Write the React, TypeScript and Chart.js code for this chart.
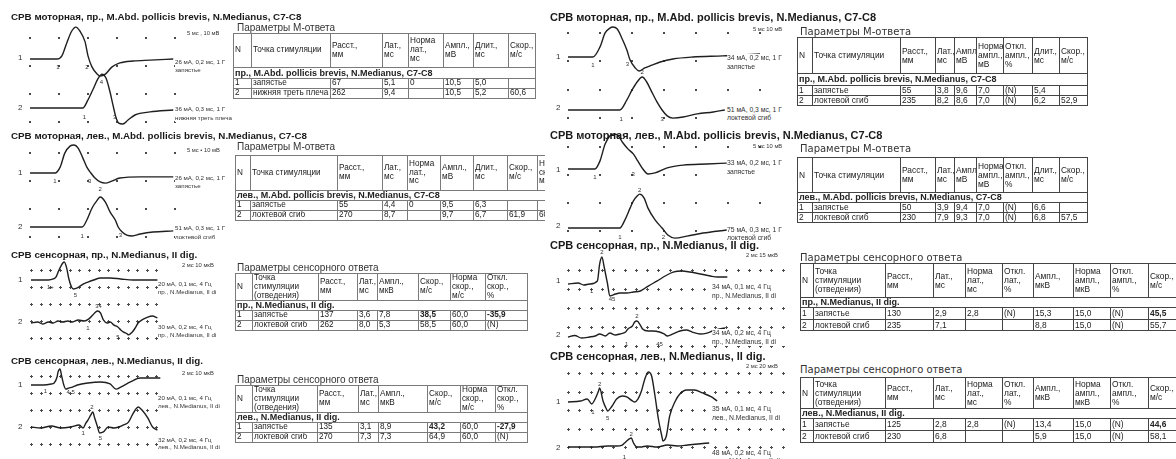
import React, { useEffect, useRef } from "react";
import { Chart, registerables } from "chart.js";

Chart.register(...registerables);

type P = [number, number];
type Mk = [number, number, number, string];

const SANS = '"Liberation Sans", Arial, sans-serif';
const TAH = '"DejaVu Sans", Verdana, sans-serif';

// ===== waveform data: [time ms, amplitude relative to trace baseline] =====
// left column, motor, right side (mV)
const L1_T1: P[] = [[0,0],[4.7,0],[5.5,1.1],[6.4,6.1],[7.2,10],[7.9,11.4],[8.6,10],[9.5,6.1],[10,1.1],[10.7,-2.9],[11.6,-5.4],[12.1,-6.1],[13,-5.4],[14.1,-2.9],[15.5,-1.4],[17.8,-0.7],[20.7,-0.4],[24.7,0]];
const L1_T2: P[] = [[0,0],[9.1,0],[10,2.9],[10.9,6.8],[11.7,10.4],[12.4,12.1],[13.1,10.7],[13.8,5.7],[14.3,1.1],[14.8,-3.2],[15.3,-5.4],[16,-5.7],[16.9,-4.3],[18.1,-2.5],[20.7,-1.4],[24.7,-0.7]];
// left column, motor, left side (mV)
const L2_T1: P[] = [[0,0],[4.3,0],[5.2,2.1],[6,7.1],[6.9,9.6],[7.6,10],[8.3,8.9],[9.1,5.4],[9.8,2.1],[10.5,0],[11.2,-1.8],[12.1,-3.2],[13,-3.6],[14.1,-2.9],[15.5,-1.8],[19,-1.4],[24.7,-1.4]];
const L2_T2: P[] = [[0,0],[9,0],[9.8,2.5],[10.7,6.8],[11.6,9.6],[12.1,10.7],[13,8.9],[13.8,5.4],[14.7,2.5],[15.2,0],[15.9,-1.8],[16.7,-2.9],[17.6,-3.2],[19,-2.5],[21.2,-1.8],[24.7,-1.4]];
// left column, sensory, right side (µV)
const L3_T1: P[] = [[0,0],[1.8,0],[2.3,0.6],[2.6,1.8],[2.9,5.9],[3.3,10],[3.45,10.6],[3.7,7],[3.9,1.2],[4.2,-4.1],[4.4,-5.3],[4.8,-4.7],[5.4,-2.4],[5.9,-1.2],[6.5,0],[7.2,1.2],[8.2,1.2],[9.3,0.6],[10.6,0],[12.4,0],[13.1,0]];
const L3_T2: P[] = [[0,-0.6],[0.7,0],[1.2,-1.2],[1.8,0],[2.3,-0.6],[2.8,0.6],[3.3,0],[3.8,0.6],[4.3,0],[4.9,1.2],[5.5,0.6],[6,1.8],[6.4,4.1],[6.7,5.9],[6.9,6.5],[7.2,5.3],[7.5,1.2],[7.9,-0.6],[8.2,0],[8.6,-1.8],[9,-2.9],[9.3,-4.7],[9.6,-5.9],[10,-7.1],[10.1,-7.6],[10.5,-5.9],[10.8,-3.5],[11.1,-0.6],[11.5,1.2],[12.1,2.9],[12.6,3.5],[13.1,2.4],[13.6,1.8],[14.1,0],[14.6,-0.6]];
// left column, sensory, left side (µV)
const L4_T1: P[] = [[0,0],[1.3,0],[2.1,0.6],[2.4,1.2],[2.7,4.7],[2.8,7.6],[3,9.4],[3.2,4.7],[3.4,0],[3.6,-2.4],[3.9,-1.8],[4.3,-1.2],[4.8,0],[5.9,1.2],[7.2,1.8],[8.2,0.6],[8.8,-2.4],[9.3,-1.2],[10.3,1.8],[11.3,4.1],[12.4,4.1],[13.4,4.1],[14.6,2.9]];
const L4_T2: P[] = [[0,0],[1,-0.6],[2.1,0.6],[3.1,-0.6],[4.1,0],[5,1.2],[5.4,-0.6],[5.7,2.4],[5.9,4.1],[6.2,7.1],[6.4,8.8],[6.6,5.3],[6.9,0],[7.1,-3.5],[7.5,-2.9],[8,0],[8.6,-0.6],[9.1,0],[9.6,1.2],[10.1,2.9],[10.5,7.1],[10.8,10],[11.1,11.8],[11.5,10],[12.1,5.3],[12.6,0],[13.1,-1.8],[13.7,-2.9],[14.6,-2.4]];
// right column, motor, right side (mV)
const R1_T1: P[] = [[0,0],[3.9,0],[5,3.6],[5.8,8.6],[6.6,10.4],[7,10.7],[7.7,10],[8.4,6.8],[9.2,2.5],[9.7,-1.1],[10.5,-3.9],[11.1,-5],[12,-3.9],[13.1,-2.9],[14.4,-1.8],[16.4,-0.7],[19.5,0],[24.2,0.4],[30,1.1],[35.2,1.4]];
const R1_T2: P[] = [[0,0],[8.1,0],[9.2,3.6],[10,7.1],[10.8,10],[11.6,11.8],[12.3,10],[13.1,6.4],[13.9,2.9],[14.7,0],[15.5,-2.1],[16.4,-2.9],[18,-2.5],[20.2,-1.4],[22.7,-0.7],[24.5,0]];
// right column, motor, left side (mV)
const R2_T1: P[] = [[0,0],[4.2,0],[5,2.9],[5.8,8.9],[6.6,12],[7.2,12.5],[7.8,12],[8.6,9.3],[9.4,7.1],[10.2,5.4],[10.9,2.9],[11.7,0],[12.5,-1.8],[13.6,-1.4],[15.5,0.4],[18,1.4],[21.7,1.8],[24.8,2.1]];
const R2_T2: P[] = [[0,0],[8.1,0],[8.9,2.9],[9.7,7.1],[10.2,9.6],[10.8,11.4],[11.2,12.1],[11.9,10.7],[12.5,7.1],[13.6,2.9],[14.7,0],[15.6,-2.5],[16.7,-3.6],[18.6,-2.9],[21.1,-1.8],[24.8,-0.7]];
// right column, sensory, right side (µV)
const R3_T1: P[] = [[0,0],[0.9,0.8],[1.4,-0.8],[1.9,0],[2.6,2.4],[2.8,15.7],[3,21.3],[3.2,13.4],[3.5,0],[3.7,-9.4],[4.2,-7.9],[4.6,-7.1],[5.2,-7.1],[5.8,-6.3],[6.4,-5.5],[7.1,-1.6],[7.9,2.4],[8.6,6.3],[9.3,9.4],[10.1,10.2],[10.8,9.4],[11.7,7.9],[12.6,6.3],[13.2,5.5],[14.1,5.5]];
const R3_T2: P[] = [[0,0],[0.6,1.2],[1.2,-0.8],[1.9,0],[2.4,0.8],[2.8,2.4],[3.3,0.8],[3.7,3.1],[4.2,1.6],[4.6,2.4],[5.1,3.9],[5.3,6.3],[5.7,8.7],[5.9,11.8],[6.1,12.6],[6.4,9.4],[6.6,6.3],[7.1,4.7],[7.5,4.7],[8.1,3.9],[8.5,2.4],[8.8,0.8],[9.3,2.4],[9.9,4.7],[10.5,5.5],[11,3.9],[11.7,2.4],[12.3,3.1],[12.8,4.7],[13.4,6.3],[13.9,7.1]];
// right column, sensory, left side (µV)
const R4_T1: P[] = [[0,0],[1.1,1],[1.7,3.2],[2.1,-2.1],[2.4,3.2],[2.7,11.6],[2.8,14.7],[3.1,1.1],[3.4,-7.4],[3.5,-9.5],[3.9,-4.2],[4.3,3.2],[4.8,6.3],[5.2,5.3],[5.7,1.1],[5.9,0],[6.2,3.2],[6.5,11.6],[6.8,24.2],[7.1,31.6],[7.4,27.4],[7.7,6.3],[8,-17.9],[8.3,-35.8],[8.4,-41],[8.7,-35.8],[9,-14.7],[9.5,1.1],[9.9,8.4],[10.5,12.6],[11.2,12.6],[11.9,9.5],[12.7,5.3],[13.2,1.1]];
const R4_T2: P[] = [[0,0],[2.3,0],[3.5,1.1],[4.3,1.1],[4.8,2.1],[5,4.2],[5.3,7.4],[5.6,9.5],[5.8,4.2],[6.1,0],[6.4,0],[7,1.1],[7.9,0],[8.8,2.1],[9.7,1.1],[10.6,2.1],[11.5,3.2],[12.5,4.2]];

// marker labels: [trace index, time, amplitude, text]
const L1_MK: Mk[] = [[0,4.8,-3,"1"],[0,9.8,-3,"2"],[0,12.3,-8.5,"4"],[1,9.4,-3.5,"1"],[1,14.6,-3.5,"3"]];
const L2_MK: Mk[] = [[0,4.3,-3,"1"],[0,10.3,-3,"3"],[1,12.1,13.5,"2"],[1,9,-3.5,"1"],[1,15.6,-3,"3"]];
const L3_MK: Mk[] = [[0,3.45,13,"2"],[0,2,-4.5,"1+"],[0,4.6,-9,"5"],[1,7,9.5,"3+"],[1,5.9,-4,"1"],[1,9,-9,"5"]];
const L4_MK: Mk[] = [[0,3,12.5,"2"],[0,1.5,-3.5,"1"],[0,4.1,-4.5,"4,5"],[1,6.3,11.5,"2"],[1,5.4,-4,"1"],[1,7.2,-6.5,"5"]];
const R1_MK: Mk[] = [[0,3.9,-3,"1"],[0,9.3,-2.5,"3"],[1,8.3,-3.5,"1"],[1,11.6,13.5,"2"],[1,14.7,-3.5,"3"]];
const R2_MK: Mk[] = [[0,4.2,-3,"1"],[0,10.2,-1.8,"3"],[1,8.1,-3.5,"1"],[1,11.2,13.5,"2"],[1,14.9,-3.5,"2"]];
const R3_MK: Mk[] = [[0,3,25,"2"],[0,2.1,-6,"1"],[0,3.9,-12,"45"],[1,6.1,16,"2"],[1,5.2,-6,"1"],[1,8.1,-6,"45"]];
const R4_MK: Mk[] = [[0,2.8,19,"2"],[0,2.2,-11,"1"],[0,3.5,-17,"5"],[1,5.6,13,"2"],[1,5,-11,"1"]];

// ===== table data =====
const HEAD_M_L = ["N", "Точка стимуляции", "Расст.,\nмм", "Лат.,\nмс", "Норма\nлат.,\nмс", "Ампл.,\nмВ", "Длит.,\nмс", "Скор.,\nм/с"];
const HEAD_M_L2 = [...HEAD_M_L, "Норма\nскор.,\nм/с"];
const T1_GROUP = "пр., M.Abd. pollicis brevis, N.Medianus, C7-C8";
const T1_ROWS = [["1", "запястье", "67", "5,1", "0", "10,5", "5,0", ""], ["2", "нижняя треть плеча", "262", "9,4", "", "10,5", "5,2", "60,6"]];
const T2_GROUP = "лев., M.Abd. pollicis brevis, N.Medianus, C7-C8";
const T2_ROWS = [["1", "запястье", "55", "4,4", "0", "9,5", "6,3", "", ""], ["2", "локтевой сгиб", "270", "8,7", "", "9,7", "6,7", "61,9", "60,0"]];
const HEAD_S_L = ["N", "Точка\nстимуляции\n(отведения)", "Расст.,\nмм", "Лат.,\nмс", "Ампл.,\nмкВ", "Скор.,\nм/с", "Норма\nскор.,\nм/с", "Откл.\nскор.,\n%"];
const T3_GROUP = "пр., N.Medianus, II dig.";
const T3_ROWS = [["1", "запястье", "137", "3,6", "7,8", "38,5", "60,0", "-35,9"], ["2", "локтевой сгиб", "262", "8,0", "5,3", "58,5", "60,0", "(N)"]];
const T4_GROUP = "лев., N.Medianus, II dig.";
const T4_ROWS = [["1", "запястье", "135", "3,1", "8,9", "43,2", "60,0", "-27,9"], ["2", "локтевой сгиб", "270", "7,3", "7,3", "64,9", "60,0", "(N)"]];
const HEAD_M_R = ["N", "Точка стимуляции", "Расст.,\nмм", "Лат.,\nмс", "Ампл.,\nмВ", "Норма\nампл.,\nмВ", "Откл.\nампл.,\n%", "Длит.,\nмс", "Скор.,\nм/с"];
const R1_GROUP = "пр., M.Abd. pollicis brevis, N.Medianus, C7-C8";
const R1_ROWS = [["1", "запястье", "55", "3,8", "9,6", "7,0", "(N)", "5,4", ""], ["2", "локтевой сгиб", "235", "8,2", "8,6", "7,0", "(N)", "6,2", "52,9"]];
const R2_GROUP = "лев., M.Abd. pollicis brevis, N.Medianus, C7-C8";
const R2_ROWS = [["1", "запястье", "50", "3,9", "9,4", "7,0", "(N)", "6,6", ""], ["2", "локтевой сгиб", "230", "7,9", "9,3", "7,0", "(N)", "6,8", "57,5"]];
const HEAD_S_R = ["N", "Точка\nстимуляции\n(отведения)", "Расст.,\nмм", "Лат.,\nмс", "Норма\nлат.,\nмс", "Откл.\nлат.,\n%", "Ампл.,\nмкВ", "Норма\nампл.,\nмкВ", "Откл.\nампл.,\n%", "Скор.,\nм/с"];
const R3_GROUP = "пр., N.Medianus, II dig.";
const R3_ROWS = [["1", "запястье", "130", "2,9", "2,8", "(N)", "15,3", "15,0", "(N)", "45,5"], ["2", "локтевой сгиб", "235", "7,1", "", "", "8,8", "15,0", "(N)", "55,7"]];
const R4_GROUP = "лев., N.Medianus, II dig.";
const R4_ROWS = [["1", "запястье", "125", "2,8", "2,8", "(N)", "13,4", "15,0", "(N)", "44,6"], ["2", "локтевой сгиб", "230", "6,8", "", "", "5,9", "15,0", "(N)", "58,1"]];

// ===== section texts =====
const TITLES_L = ["СРВ моторная, пр., M.Abd. pollicis brevis, N.Medianus, C7-C8", "СРВ моторная, лев., M.Abd. pollicis brevis, N.Medianus, C7-C8", "СРВ сенсорная, пр., N.Medianus, II dig.", "СРВ сенсорная, лев., N.Medianus, II dig."];
const TITLES_R = TITLES_L;
const SCALES_L = ["5 мс , 10 мВ", "5 мс • 10 мВ", "2 мс    10 мкВ", "2 мс    10 мкВ"];
const SCALES_R = ["5 мс    10 мВ", "5 мс    10 мВ", "2 мс    15 мкВ", "2 мс    20 мкВ"];
const NOTES_L = [
  ["26 мА, 0,2 мс, 1 Г", "запястье", "36 мА, 0,3 мс, 1 Г", "нижняя треть плеча"],
  ["26 мА, 0,2 мс, 1 Г", "запястье", "51 мА, 0,3 мс, 1 Г", "локтевой сгиб"],
  ["20 мА, 0,1 мс, 4 Гц", "пр., N.Medianus, II di", "30 мА, 0,2 мс, 4 Гц", "пр., N.Medianus, II di"],
  ["20 мА, 0,1 мс, 4 Гц", "лев., N.Medianus, II di", "32 мА, 0,2 мс, 4 Гц", "лев., N.Medianus, II di"],
];
const NOTES_R = [
  ["34 мА, 0,2 мс, 1 Г", "запястье", "51 мА, 0,3 мс, 1 Г", "локтевой сгиб"],
  ["33 мА, 0,2 мс, 1 Г", "запястье", "75 мА, 0,3 мс, 1 Г", "локтевой сгиб"],
  ["34 мА, 0,1 мс, 4 Гц", "пр., N.Medianus, II di", "34 мА, 0,2 мс, 4 Гц", "пр., N.Medianus, II di"],
  ["35 мА, 0,1 мс, 4 Гц", "лев., N.Medianus, II di", "48 мА, 0,2 мс, 4 Гц", "лев., N.Medianus, II di"],
];

// ===== layout (page pixels) =====
type WaveCfg = {
  box: [number, number, number, number];
  x0: number; pxX: number; xMax: number; xStep: number;
  rowTop: number; rowBot: number; nRows: number;
  k: number; base: [number, number];
  traces: P[][]; marks: Mk[]; plus: boolean;
};

const WAVES: WaveCfg[] = [
  { box: [8, 22, 232, 108], x0: 30, pxX: 5.8, xMax: 25, xStep: 5, rowTop: 38, rowBot: 122, nRows: 4, k: 2.8, base: [59, 108], traces: [L1_T1, L1_T2], marks: L1_MK, plus: false },
  { box: [8, 141, 232, 102], x0: 30, pxX: 5.8, xMax: 25, xStep: 5, rowTop: 153, rowBot: 237, nRows: 4, k: 2.8, base: [173, 227], traces: [L2_T1, L2_T2], marks: L2_MK, plus: false },
  { box: [8, 259, 232, 92], x0: 31, pxX: 9.65, xMax: 13, xStep: 1, rowTop: 270, rowBot: 338, nRows: 5, k: 1.7, base: [280, 322], traces: [L3_T1, L3_T2], marks: L3_MK, plus: true },
  { box: [8, 365, 232, 92], x0: 31, pxX: 9.65, xMax: 13, xStep: 1, rowTop: 376, rowBot: 444, nRows: 5, k: 1.7, base: [385, 427], traces: [L4_T1, L4_T2], marks: L4_MK, plus: true },
  { box: [548, 22, 250, 106], x0: 568, pxX: 6.4, xMax: 30, xStep: 5, rowTop: 33, rowBot: 118, nRows: 4, k: 2.8, base: [57, 110], traces: [R1_T1, R1_T2], marks: R1_MK, plus: false },
  { box: [548, 128, 250, 114], x0: 568, pxX: 6.4, xMax: 30, xStep: 5, rowTop: 147, rowBot: 231, nRows: 4, k: 2.8, base: [169, 228], traces: [R2_T1, R2_T2], marks: R2_MK, plus: false },
  { box: [548, 250, 250, 100], x0: 568, pxX: 11.3, xMax: 19, xStep: 1, rowTop: 270, rowBot: 346, nRows: 5, k: 1.27, base: [284, 337], traces: [R3_T1, R3_T2], marks: R3_MK, plus: true },
  { box: [548, 362, 250, 97], x0: 568, pxX: 11.3, xMax: 19, xStep: 1, rowTop: 373, rowBot: 447, nRows: 5, k: 0.95, base: [402, 447], traces: [R4_T1, R4_T2], marks: R4_MK, plus: true },
];

function Wave({ cfg }: { cfg: WaveCfg }) {
  const ref = useRef<HTMLCanvasElement | null>(null);
  const [L, T, W, H] = cfg.box;
  useEffect(() => {
    if (!ref.current) return;
    const right = cfg.x0 + cfg.xMax * cfg.pxX;
    const pad = { left: cfg.x0 - L, right: L + W - right, top: cfg.rowTop - T, bottom: T + H - cfg.rowBot };
    const range = (b: number) => ({ min: -(cfg.rowBot - b) / cfg.k, max: (b - cfg.rowTop) / cfg.k });
    const dots = {
      id: "dots",
      beforeDatasetsDraw(chart: any) {
        const { ctx, scales } = chart;
        ctx.save();
        ctx.fillStyle = "#4a4a4a";
        for (let t = 0; t <= cfg.xMax + 1e-6; t += cfg.xStep) {
          const px = Math.round(scales.x.getPixelForValue(t));
          for (let r = 0; r < cfg.nRows; r++) {
            const py = Math.round(scales.gy.getPixelForValue(r));
            if (cfg.plus) {
              ctx.fillRect(px - 1, py, 3, 1);
              ctx.fillRect(px, py - 1, 1, 3);
            } else {
              ctx.fillRect(px - 1, py - 1, 2, 2);
            }
          }
        }
        ctx.restore();
      },
    };
    const marks = {
      id: "marks",
      afterDatasetsDraw(chart: any) {
        const { ctx, scales } = chart;
        ctx.save();
        ctx.fillStyle = "#333";
        ctx.font = '6px "Liberation Sans", Arial, sans-serif';
        ctx.textAlign = "center";
        ctx.textBaseline = "middle";
        cfg.marks.forEach(([ti, t, v, s]) => {
          const px = scales.x.getPixelForValue(t);
          const py = scales[ti === 0 ? "y" : "y2"].getPixelForValue(v);
          ctx.fillText(s, px, py);
        });
        ctx.restore();
      },
    };
    const chart = new Chart(ref.current, {
      type: "line",
      data: {
        datasets: cfg.traces.map((tr, i) => ({
          data: tr.map(([x, y]) => ({ x, y })),
          yAxisID: i === 0 ? "y" : "y2",
          borderColor: "#1f1f1f",
          borderWidth: 1.4,
          pointRadius: 0,
          fill: false,
          cubicInterpolationMode: "monotone",
          clip: false,
        })) as any,
      },
      options: {
        animation: false,
        responsive: false,
        devicePixelRatio: 1,
        events: [],
        layout: { padding: pad },
        scales: {
          x: { type: "linear", min: 0, max: cfg.xMax, display: false, bounds: "data" },
          y: { type: "linear", ...range(cfg.base[0]), display: false, bounds: "data" },
          y2: { type: "linear", axis: "y", ...range(cfg.base[1]), display: false, bounds: "data" },
          gy: { type: "linear", axis: "y", min: 0, max: cfg.nRows - 1, display: false, bounds: "data" },
        } as any,
        plugins: { legend: { display: false }, tooltip: { enabled: false } },
      },
      plugins: [dots, marks],
    });
    return () => chart.destroy();
  }, []);
  return <canvas ref={ref} width={W} height={H} style={{ position: "absolute", left: L, top: T, width: W, height: H }} />;
}

function Txt({ x, y, s, size, bold = false, font = SANS, color = "#222", bg = false, w }: any) {
  return (
    <div
      style={{
        position: "absolute", left: x, top: y - size * 0.6, fontSize: size, lineHeight: `${size * 1.2}px`,
        fontFamily: font, fontWeight: bold ? 700 : 400, color, whiteSpace: "nowrap",
        background: bg ? "#fff" : "transparent", width: w, overflow: w ? "hidden" : "visible",
      }}
    >
      {s}
    </div>
  );
}

function Table({ x, y, widths, heights, head, group, body, bold = [], size, gsize, font, border }: any) {
  const total = widths.reduce((a: number, b: number) => a + b, 0);
  const cell: any = {
    border: `1px solid ${border}`, padding: "0 1px", fontSize: size, lineHeight: `${size + 0.6}px`,
    fontFamily: font, color: "#222", overflow: "hidden", whiteSpace: "nowrap", verticalAlign: "middle", textAlign: "left",
  };
  return (
    <table style={{ position: "absolute", left: x, top: y, width: total, borderCollapse: "collapse", tableLayout: "fixed" }}>
      <colgroup>{widths.map((w: number, i: number) => <col key={i} style={{ width: w }} />)}</colgroup>
      <tbody>
        <tr style={{ height: heights[0] }}>
          {head.map((h: string, i: number) => (
            <td key={i} style={cell}>{h.split("\n").map((l, j) => <div key={j}>{l}</div>)}</td>
          ))}
        </tr>
        <tr style={{ height: heights[1] }}>
          <td colSpan={widths.length} style={{ ...cell, fontSize: gsize, lineHeight: `${gsize}px`, fontWeight: 700 }}>{group}</td>
        </tr>
        {body.map((r: string[], ri: number) => (
          <tr key={ri} style={{ height: heights[2 + ri] }}>
            {r.map((c, ci) => (
              <td key={ci} style={{ ...cell, fontWeight: bold.some(([a, b]: number[]) => a === ri && b === ci) ? 700 : 400 }}>{c}</td>
            ))}
          </tr>
        ))}
      </tbody>
    </table>
  );
}

const SEC_L = [
  { ty: 17, sy: 33, ny: [62, 70, 109, 118], ly: [58, 108] },
  { ty: 136, sy: 150, ny: [178, 186, 228, 237], ly: [173, 227] },
  { ty: 255, sy: 265, ny: [284, 292, 327, 335], ly: [280, 322] },
  { ty: 361, sy: 373, ny: [398, 406, 440, 447], ly: [385, 427] },
];
const SEC_R = [
  { ty: 18, sy: 29, ny: [58, 67, 110, 118], ly: [57, 108] },
  { ty: 136, sy: 146, ny: [163, 172, 230, 238], ly: [170, 226] },
  { ty: 246, sy: 255, ny: [287, 296, 333, 342], ly: [281, 335] },
  { ty: 357, sy: 366, ny: [409, 418, 453, 461], ly: [402, 448] },
];

export default function App() {
  return (
    <div style={{ position: "absolute", left: 0, top: 0, width: 1176, height: 459, overflow: "hidden", background: "#fff" }}>
      {WAVES.map((c, i) => <Wave key={i} cfg={c} />)}

      {/* left column */}
      <div style={{ position: "absolute", left: 0, top: 0, width: 545, height: 459, overflow: "hidden" }}>
        {SEC_L.map((s, i) => (
          <React.Fragment key={i}>
            <Txt x={11} y={s.ty} s={TITLES_L[i]} size={9.8} bold color="#1a1a1a" />
            <Txt x={i < 2 ? 187 : 182} y={s.sy} s={SCALES_L[i]} size={5.8} color="#333" />
            {NOTES_L[i].map((n, j) => (
              <Txt key={j} x={i < 2 ? 175 : 158} y={s.ny[j]} s={n} size={6.2} color="#333" bg w={i < 2 ? 58 : 74} />
            ))}
            <Txt x={18} y={s.ly[0]} s="1" size={8} color="#333" />
            <Txt x={18} y={s.ly[1]} s="2" size={8} color="#333" />
          </React.Fragment>
        ))}
        <Txt x={237} y={28} s="Параметры М-ответа" size={10} color="#333" />
        <Table x={233} y={33} widths={[18, 79, 52, 26, 35, 30, 35, 27]} heights={[34, 11, 9, 9]} head={HEAD_M_L} group={T1_GROUP} body={T1_ROWS} size={8.2} gsize={9} font={SANS} border="#7a7a7a" />
        <Txt x={237} y={147} s="Параметры М-ответа" size={10} color="#333" />
        <Table x={235} y={155} widths={[15, 87, 45, 25, 33, 33, 34, 30, 40]} heights={[35, 10, 9, 9]} head={HEAD_M_L2} group={T2_GROUP} body={T2_ROWS} size={8.2} gsize={9} font={SANS} border="#7a7a7a" />
        <Txt x={237} y={268} s="Параметры сенсорного ответа" size={10} color="#333" />
        <Table x={235} y={273} widths={[17, 66, 39, 20, 41, 32, 35, 42]} heights={[25, 9, 10, 9]} head={HEAD_S_L} group={T3_GROUP} body={T3_ROWS} bold={[[0, 5], [0, 7]]} size={8.2} gsize={9} font={SANS} border="#7a7a7a" />
        <Txt x={237} y={380} s="Параметры сенсорного ответа" size={10} color="#333" />
        <Table x={235} y={385} widths={[17, 65, 41, 20, 49, 33, 35, 32]} heights={[25, 8, 10, 10]} head={HEAD_S_L} group={T4_GROUP} body={T4_ROWS} bold={[[0, 5], [0, 7]]} size={8.2} gsize={9} font={SANS} border="#7a7a7a" />
      </div>

      {/* right column */}
      {SEC_R.map((s, i) => (
        <React.Fragment key={i}>
          <Txt x={550} y={s.ty} s={TITLES_R[i]} size={11} bold color="#1a1a1a" />
          <Txt x={i < 2 ? 753 : 746} y={s.sy} s={SCALES_R[i]} size={5.8} color="#333" />
          {NOTES_R[i].map((n, j) => (
            <Txt key={j} x={i < 2 ? 727 : 712} y={s.ny[j]} s={n} size={6.8} color="#333" bg w={i < 2 ? 64 : 76} />
          ))}
          <Txt x={556} y={s.ly[0]} s="1" size={8} color="#333" />
          <Txt x={556} y={s.ly[1]} s="2" size={8} color="#333" />
        </React.Fragment>
      ))}
      <Txt x={800} y={32} s="Параметры М-ответа" size={10} font={TAH} color="#333" />
      <Table x={797} y={37} widths={[15, 88, 35, 19, 22, 27, 29, 27, 28]} heights={[36, 12, 9, 9]} head={HEAD_M_R} group={R1_GROUP} body={R1_ROWS} size={8.4} gsize={9} font={SANS} border="#444" />
      <Txt x={800} y={149} s="Параметры М-ответа" size={10} font={TAH} color="#333" />
      <Table x={797} y={157} widths={[15, 88, 35, 19, 22, 27, 29, 27, 28]} heights={[35, 10, 10, 10]} head={HEAD_M_R} group={R2_GROUP} body={R2_ROWS} size={8.4} gsize={9} font={SANS} border="#444" />
      <Txt x={800} y={258} s="Параметры сенсорного ответа" size={10} font={TAH} color="#333" />
      <Table x={800} y={263} widths={[13, 72, 48, 32, 37, 31, 40, 37, 38, 45]} heights={[34, 10, 12, 11]} head={HEAD_S_R} group={R3_GROUP} body={R3_ROWS} bold={[[0, 9]]} size={8.4} gsize={9} font={SANS} border="#444" />
      <Txt x={800} y={370} s="Параметры сенсорного ответа" size={10} font={TAH} color="#333" />
      <Table x={800} y={377} widths={[13, 72, 48, 32, 37, 31, 40, 37, 38, 45]} heights={[31, 10, 12, 12]} head={HEAD_S_R} group={R4_GROUP} body={R4_ROWS} bold={[[0, 9]]} size={8.4} gsize={9} font={SANS} border="#444" />
    </div>
  );
}
